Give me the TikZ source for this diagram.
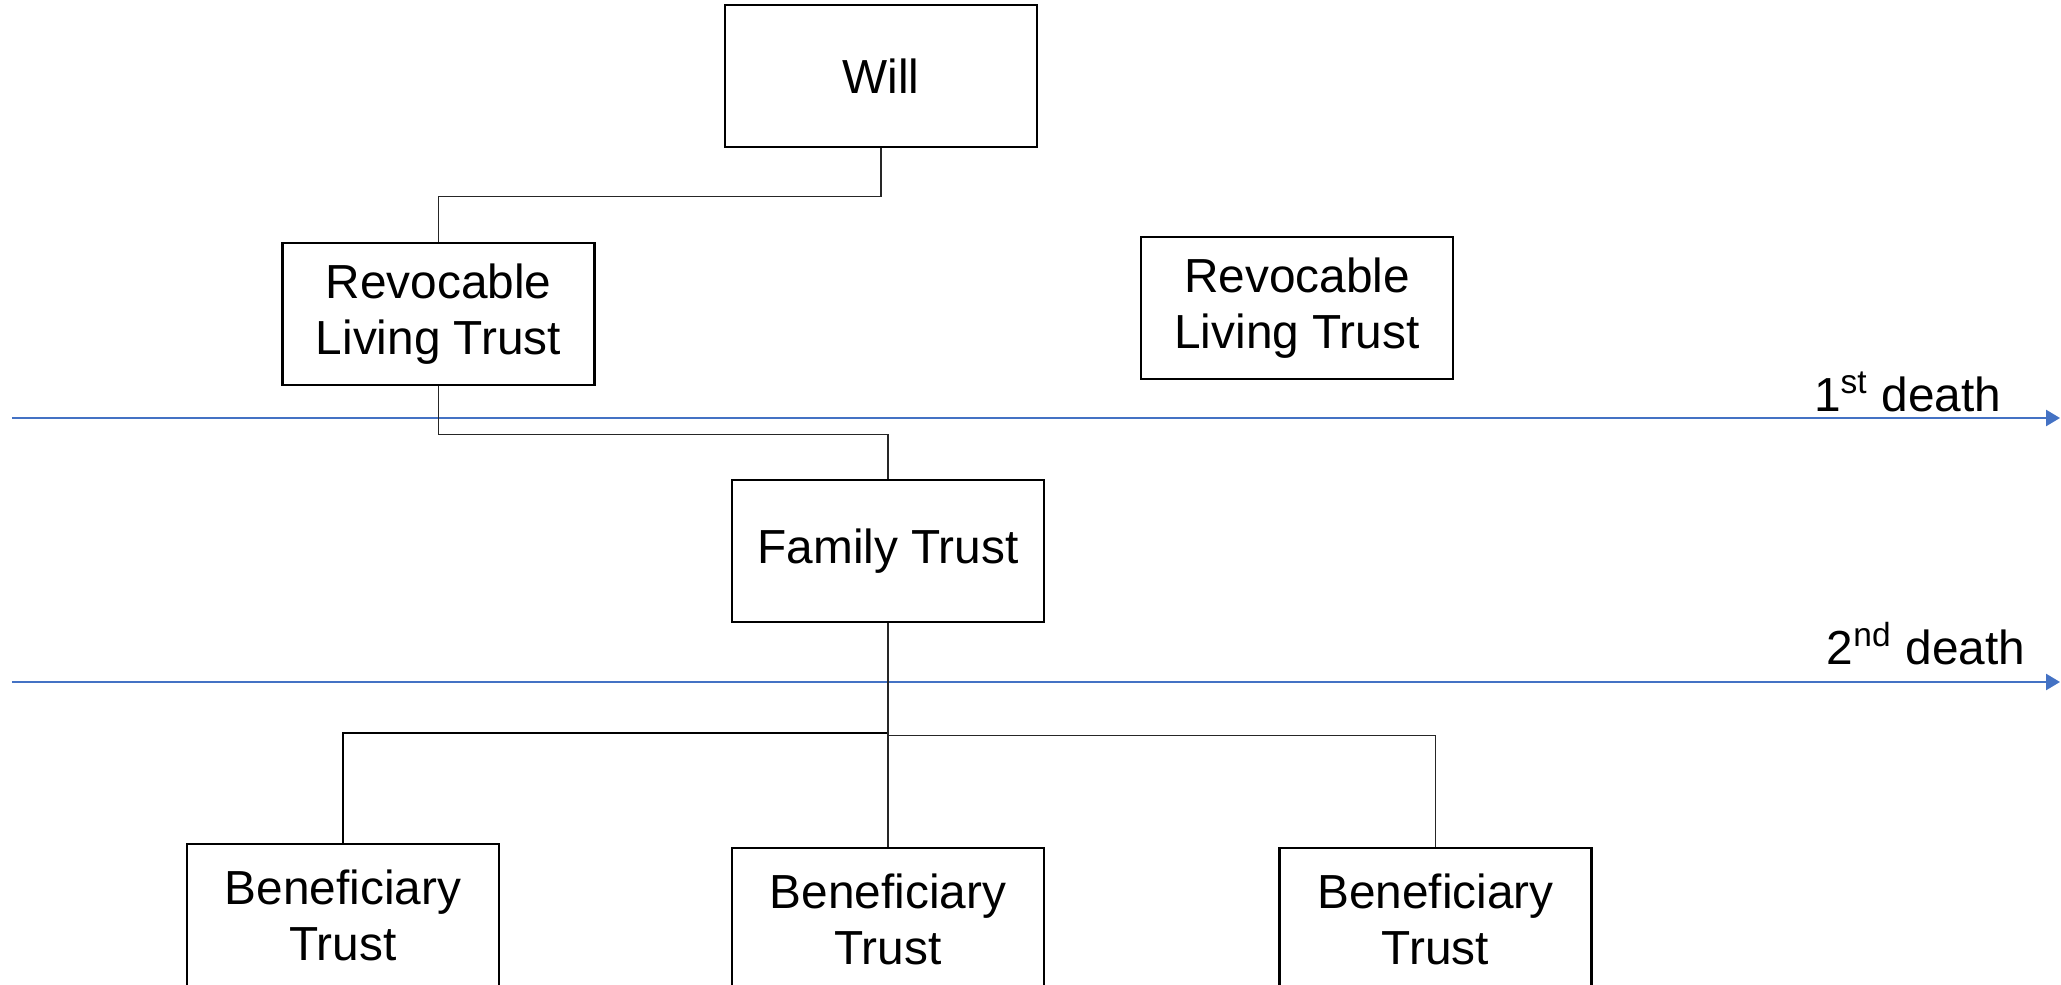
\documentclass[tikz,border=0pt]{standalone}
\usepackage{fontspec}
\setmainfont{Liberation Sans}
\usepackage{tikz}
\usetikzlibrary{positioning,arrows.meta}

\definecolor{lineblue}{RGB}{68,114,196}

\begin{document}
\begin{tikzpicture}[
      every node/.style={font=\fontsize{13.6}{15.8}\selectfont},
      trust/.style={draw, line width=0.6pt, minimum width=3.12cm, minimum height=1.42cm, inner sep=0pt, align=center},
      deathlbl/.style={anchor=base east, inner sep=0pt},
      link/.style={line width=0.3pt, black!85},
      boldlink/.style={line width=0.6pt, black},
      timeline/.style={line width=0.75pt, lineblue, -{Triangle[length=0.14cm, width=0.16cm]}},
    ]
    \clip (0,0) rectangle (20.61,-9.85);

    % Will at top
    \node[trust] (will) at (8.81,-0.76) {Will};

    % Revocable trusts
    \node[trust, below=0.94cm of will, xshift=-4.425cm] (rlt1) {Revocable\\Living Trust};
    \node[trust, below=0.88cm of will, xshift=4.16cm] (rlt2) {Revocable\\Living Trust};

    % Family trust
    \node[trust, below=3.31cm of will, xshift=0.07cm] (ft) {Family Trust};

    % Beneficiary trusts
    \node[trust, below=2.20cm of ft, xshift=-5.45cm] (bt1) {Beneficiary\\Trust};
    \node[trust, below=2.24cm of ft] (bt2) {Beneficiary\\Trust};
    \node[trust, below=2.24cm of ft, xshift=5.475cm] (bt3) {Beneficiary\\Trust};

    % Death lines
    \coordinate (d1start) at (0.12,-4.18);
    \coordinate (d1end) at (20.60,-4.18);
    \coordinate (d2start) at (0.12,-6.82);
    \coordinate (d2end) at (20.60,-6.82);
    \draw[timeline] (d1start) -- (d1end);
    \draw[timeline] (d2start) -- (d2end);
    \node[deathlbl] (d1lbl) at (20.02,-4.12) {1\textsuperscript{st} death};
    \node[deathlbl] (d2lbl) at (20.26,-6.65) {2\textsuperscript{nd} death};

    % Connectors
    \draw[link] (will.south) -- ++(0,-0.48) -| (rlt1.north);
    \draw[link] (rlt1.south) -- ++(0,-0.485) -| (ft.north);
    \draw[boldlink] (ft.south) -- ++(0,-1.10) -| (bt1.north);
    \draw[link] (ft.south) -- ++(0,-1.12) coordinate (split) -| (bt3.north);
    \draw[link] (split) -| (bt2.north);
  \end{tikzpicture}
\end{document}
